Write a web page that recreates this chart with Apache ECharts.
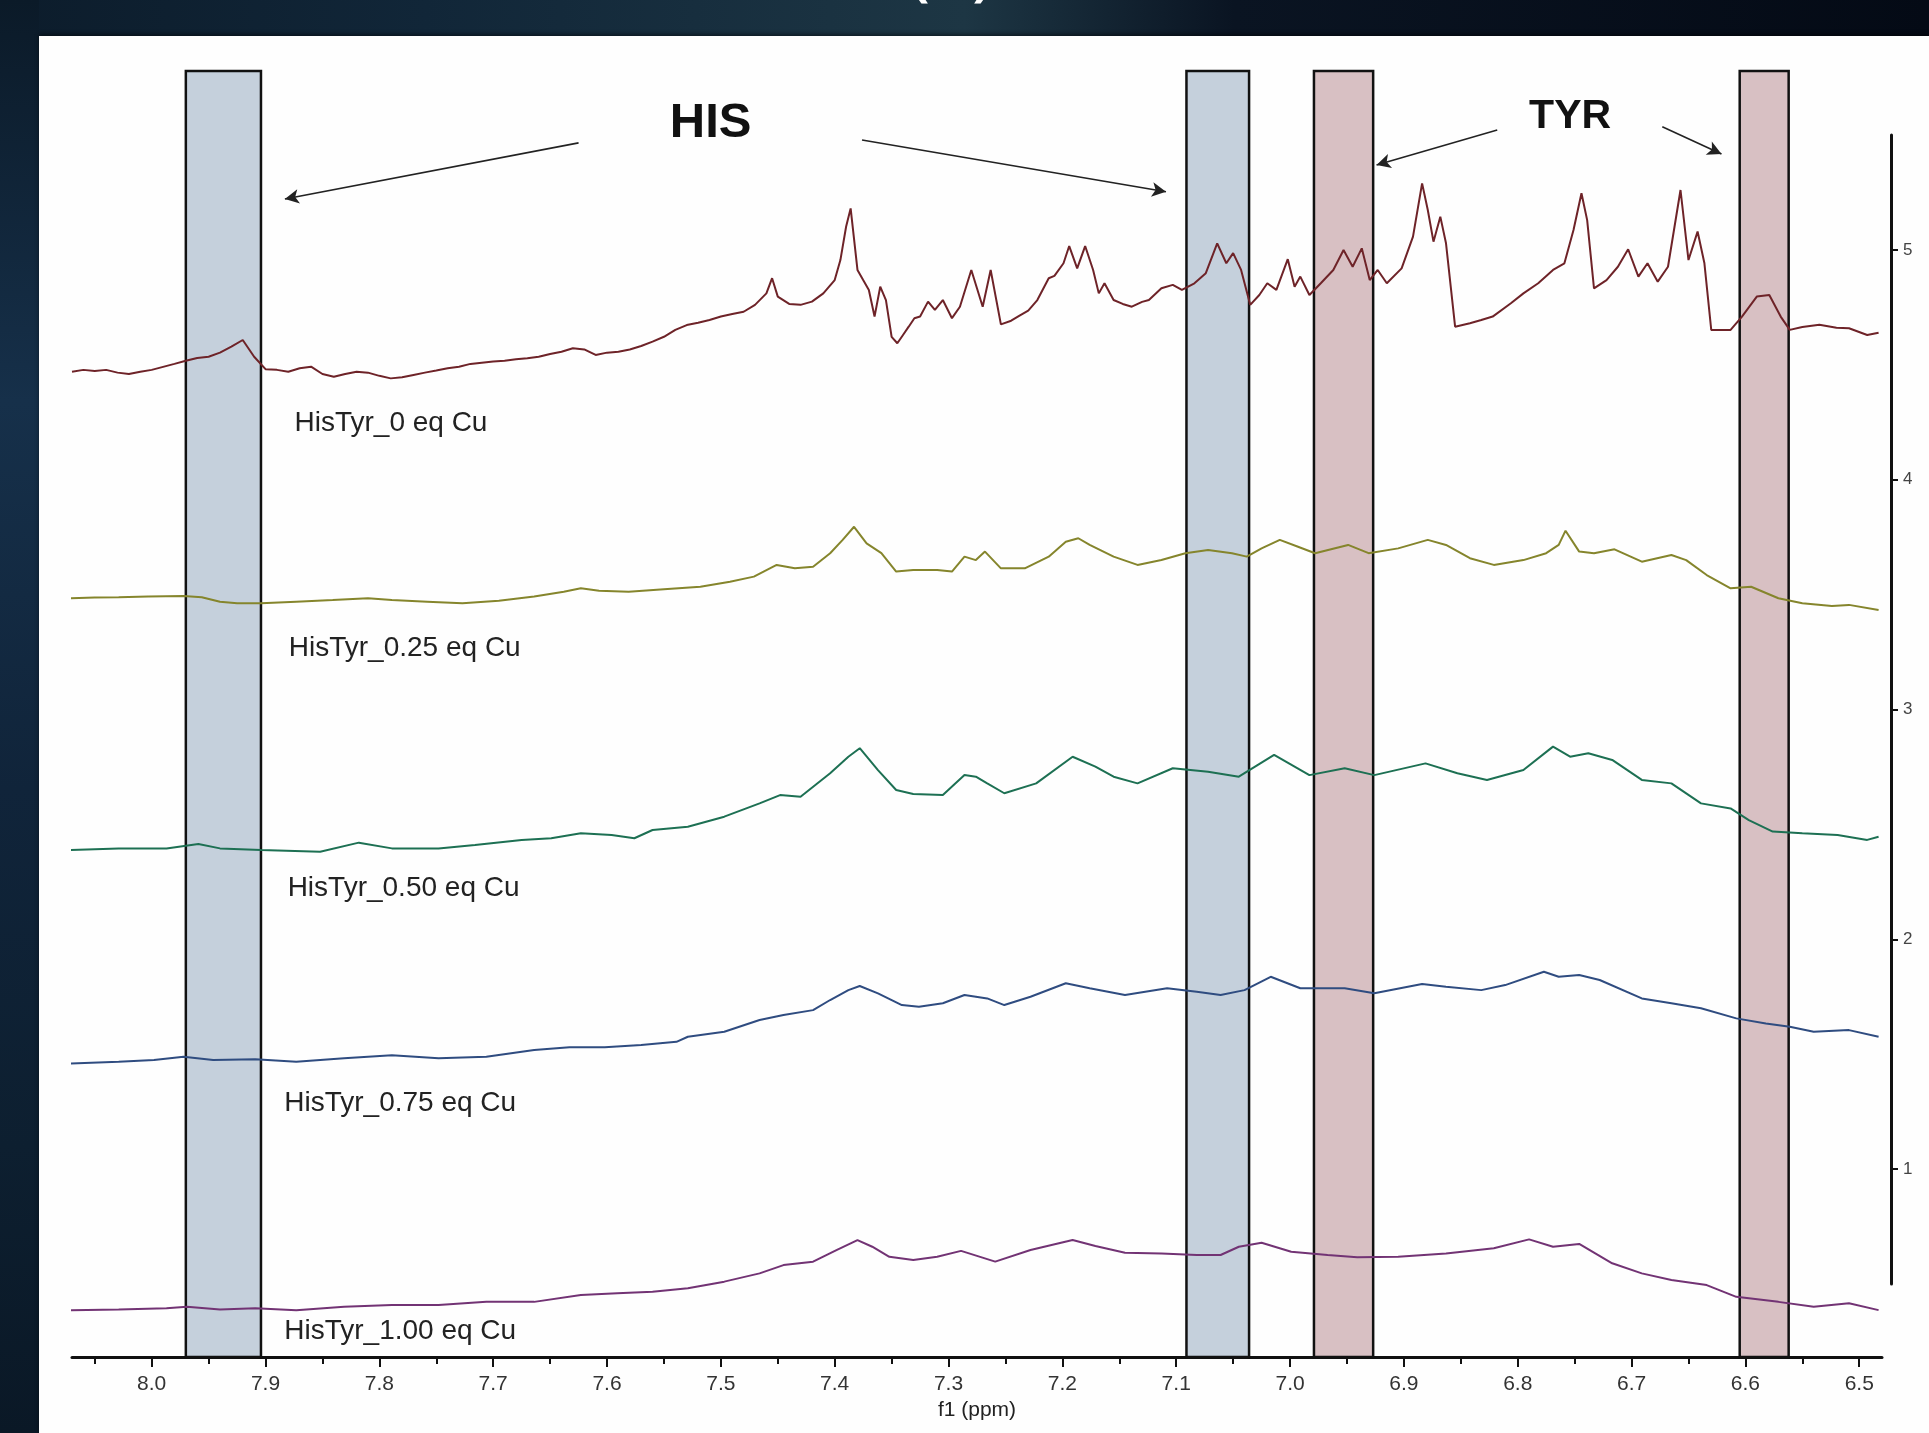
<!DOCTYPE html>
<html><head><meta charset="utf-8">
<script src="https://cdn.jsdelivr.net/npm/echarts@6/dist/echarts.min.js"></script>
<style>
html,body{margin:0;padding:0;}
body{width:1929px;height:1433px;overflow:hidden;position:relative;
background:linear-gradient(90deg,#0c1c2b 0%,#112638 22%,#1d3644 50%,#0a1422 64%,#040a15 100%);}
#left{position:absolute;left:0;top:0;width:39px;height:1433px;background:linear-gradient(180deg,#0b1a28 0%,#16304a 28%,#10243a 55%,#0d1f30 80%,#0a1826 100%);}
#panel{position:absolute;left:39px;top:36px;right:0;bottom:0;background:#fefefe;box-shadow:0 -2px 4px rgba(0,0,0,0.45);}
#chart{position:absolute;left:0;top:0;width:1929px;height:1433px;}
</style></head><body>
<div id="left"></div><div id="panel"></div><div id="chart"></div>
<script>
// ---- data (x: ppm, y: intensity on the right-hand scale) ----
const names = ['HisTyr_0 eq Cu','HisTyr_0.25 eq Cu','HisTyr_0.50 eq Cu','HisTyr_0.75 eq Cu','HisTyr_1.00 eq Cu'];

const spec0 = [[8.07,4.470],[8.06,4.478],[8.05,4.473],[8.04,4.478],[8.03,4.466],[8.02,4.460],[8.01,4.470],[8.00,4.478],[7.99,4.491],[7.98,4.504],[7.97,4.518],[7.96,4.530],[7.95,4.535],[7.94,4.553],[7.93,4.579],[7.92,4.608],[7.91,4.535],[7.90,4.481],[7.89,4.478],[7.88,4.470],[7.87,4.485],[7.86,4.492],[7.85,4.460],[7.84,4.448],[7.83,4.460],[7.82,4.470],[7.81,4.466],[7.80,4.452],[7.79,4.441],[7.78,4.446],[7.77,4.456],[7.76,4.466],[7.75,4.475],[7.74,4.485],[7.73,4.492],[7.72,4.504],[7.71,4.509],[7.70,4.514],[7.69,4.518],[7.68,4.524],[7.67,4.529],[7.66,4.535],[7.65,4.547],[7.64,4.557],[7.63,4.572],[7.62,4.567],[7.61,4.543],[7.60,4.553],[7.59,4.557],[7.58,4.567],[7.57,4.582],[7.56,4.601],[7.55,4.622],[7.54,4.652],[7.53,4.673],[7.52,4.683],[7.51,4.695],[7.50,4.710],[7.49,4.721],[7.48,4.731],[7.47,4.761],[7.46,4.811],[7.455,4.877],[7.45,4.797],[7.44,4.765],[7.43,4.761],[7.42,4.775],[7.41,4.811],[7.40,4.869],[7.395,4.956],[7.39,5.101],[7.386,5.181],[7.38,4.913],[7.375,4.869],[7.37,4.826],[7.365,4.710],[7.36,4.840],[7.355,4.782],[7.35,4.622],[7.345,4.594],[7.34,4.630],[7.335,4.666],[7.33,4.703],[7.325,4.710],[7.318,4.775],[7.312,4.739],[7.305,4.782],[7.297,4.703],[7.29,4.753],[7.28,4.913],[7.27,4.753],[7.263,4.913],[7.254,4.676],[7.245,4.692],[7.238,4.713],[7.23,4.736],[7.222,4.782],[7.212,4.877],[7.207,4.887],[7.199,4.942],[7.194,5.017],[7.187,4.920],[7.18,5.017],[7.173,4.913],[7.168,4.811],[7.163,4.855],[7.155,4.782],[7.147,4.765],[7.139,4.753],[7.13,4.774],[7.124,4.782],[7.113,4.833],[7.103,4.848],[7.095,4.826],[7.084,4.855],[7.074,4.899],[7.064,5.029],[7.056,4.942],[7.05,4.986],[7.043,4.913],[7.035,4.761],[7.027,4.804],[7.02,4.855],[7.012,4.826],[7.002,4.960],[6.996,4.840],[6.991,4.884],[6.983,4.804],[6.973,4.855],[6.962,4.913],[6.953,5.000],[6.945,4.927],[6.937,5.007],[6.93,4.869],[6.923,4.913],[6.915,4.855],[6.902,4.920],[6.892,5.058],[6.884,5.290],[6.879,5.174],[6.874,5.036],[6.868,5.145],[6.863,5.029],[6.855,4.666],[6.842,4.681],[6.832,4.695],[6.822,4.710],[6.806,4.768],[6.795,4.811],[6.782,4.855],[6.769,4.913],[6.759,4.942],[6.751,5.087],[6.744,5.247],[6.739,5.130],[6.733,4.833],[6.722,4.869],[6.712,4.927],[6.703,5.003],[6.694,4.884],[6.686,4.942],[6.677,4.862],[6.668,4.927],[6.657,5.261],[6.65,4.956],[6.642,5.080],[6.636,4.942],[6.63,4.652],[6.613,4.652],[6.603,4.710],[6.59,4.797],[6.579,4.804],[6.569,4.710],[6.561,4.652],[6.55,4.665],[6.535,4.674],[6.52,4.661],[6.509,4.659],[6.493,4.630],[6.483,4.640]];

const spec1 = [[8.071,3.484],[8.05,3.487],[8.029,3.488],[8.003,3.491],[7.972,3.494],[7.956,3.488],[7.94,3.469],[7.925,3.462],[7.904,3.462],[7.873,3.469],[7.841,3.476],[7.81,3.484],[7.789,3.476],[7.758,3.469],[7.727,3.462],[7.695,3.473],[7.664,3.491],[7.638,3.512],[7.623,3.527],[7.607,3.517],[7.581,3.512],[7.55,3.523],[7.518,3.534],[7.492,3.556],[7.471,3.578],[7.451,3.629],[7.435,3.614],[7.419,3.621],[7.404,3.680],[7.393,3.738],[7.383,3.795],[7.372,3.723],[7.359,3.680],[7.346,3.600],[7.331,3.607],[7.31,3.607],[7.297,3.600],[7.286,3.665],[7.276,3.650],[7.268,3.687],[7.254,3.614],[7.233,3.614],[7.212,3.665],[7.197,3.730],[7.186,3.745],[7.176,3.716],[7.155,3.665],[7.134,3.629],[7.113,3.650],[7.092,3.680],[7.072,3.694],[7.051,3.680],[7.038,3.665],[7.025,3.701],[7.009,3.738],[6.993,3.708],[6.978,3.680],[6.949,3.716],[6.931,3.680],[6.905,3.701],[6.879,3.738],[6.863,3.716],[6.842,3.658],[6.821,3.629],[6.795,3.650],[6.775,3.680],[6.764,3.716],[6.758,3.778],[6.746,3.687],[6.733,3.680],[6.715,3.697],[6.691,3.643],[6.665,3.672],[6.652,3.650],[6.634,3.585],[6.613,3.527],[6.595,3.534],[6.571,3.484],[6.55,3.462],[6.524,3.450],[6.509,3.455],[6.483,3.433]];

const spec2 = [[8.071,2.388],[8.029,2.395],[7.987,2.395],[7.959,2.414],[7.94,2.395],[7.904,2.388],[7.852,2.380],[7.818,2.420],[7.789,2.395],[7.748,2.395],[7.716,2.410],[7.675,2.432],[7.649,2.439],[7.623,2.461],[7.596,2.453],[7.576,2.439],[7.56,2.475],[7.529,2.489],[7.497,2.533],[7.466,2.591],[7.448,2.627],[7.43,2.620],[7.404,2.722],[7.388,2.794],[7.378,2.831],[7.362,2.736],[7.346,2.649],[7.331,2.632],[7.305,2.627],[7.286,2.714],[7.276,2.707],[7.266,2.678],[7.251,2.635],[7.223,2.678],[7.191,2.794],[7.171,2.751],[7.155,2.707],[7.134,2.678],[7.103,2.744],[7.072,2.729],[7.045,2.707],[7.014,2.802],[6.983,2.714],[6.952,2.744],[6.926,2.714],[6.881,2.765],[6.853,2.722],[6.827,2.693],[6.795,2.736],[6.769,2.838],[6.754,2.794],[6.738,2.809],[6.717,2.780],[6.691,2.693],[6.665,2.678],[6.639,2.591],[6.613,2.569],[6.597,2.518],[6.576,2.468],[6.55,2.461],[6.519,2.453],[6.493,2.432],[6.483,2.446]];

const spec3 = [[8.071,1.459],[8.029,1.466],[7.998,1.474],[7.972,1.488],[7.946,1.474],[7.909,1.477],[7.873,1.466],[7.831,1.481],[7.789,1.495],[7.748,1.481],[7.706,1.488],[7.664,1.517],[7.633,1.529],[7.602,1.529],[7.57,1.539],[7.539,1.553],[7.529,1.575],[7.497,1.597],[7.466,1.648],[7.445,1.670],[7.419,1.691],[7.404,1.735],[7.388,1.778],[7.378,1.796],[7.362,1.764],[7.341,1.713],[7.326,1.706],[7.305,1.721],[7.286,1.757],[7.266,1.742],[7.251,1.713],[7.228,1.749],[7.197,1.808],[7.176,1.786],[7.145,1.757],[7.108,1.786],[7.082,1.771],[7.061,1.757],[7.04,1.778],[7.017,1.836],[6.991,1.786],[6.952,1.786],[6.926,1.764],[6.884,1.805],[6.863,1.793],[6.832,1.778],[6.811,1.800],[6.777,1.858],[6.764,1.836],[6.746,1.844],[6.728,1.822],[6.691,1.742],[6.665,1.721],[6.639,1.699],[6.608,1.655],[6.582,1.633],[6.561,1.619],[6.54,1.597],[6.509,1.604],[6.483,1.575]];

const spec4 = [[8.071,0.385],[8.029,0.388],[7.987,0.393],[7.969,0.400],[7.94,0.388],[7.909,0.393],[7.873,0.385],[7.831,0.400],[7.789,0.407],[7.748,0.407],[7.706,0.421],[7.664,0.421],[7.623,0.451],[7.591,0.458],[7.56,0.465],[7.529,0.480],[7.497,0.509],[7.466,0.545],[7.445,0.581],[7.419,0.596],[7.398,0.647],[7.38,0.690],[7.367,0.661],[7.352,0.617],[7.331,0.603],[7.31,0.617],[7.289,0.643],[7.259,0.596],[7.228,0.647],[7.191,0.690],[7.171,0.664],[7.145,0.635],[7.113,0.632],[7.082,0.625],[7.061,0.625],[7.045,0.661],[7.025,0.678],[6.999,0.639],[6.967,0.625],[6.941,0.615],[6.905,0.617],[6.863,0.632],[6.821,0.654],[6.79,0.693],[6.769,0.661],[6.746,0.673],[6.717,0.589],[6.691,0.545],[6.665,0.516],[6.634,0.494],[6.608,0.443],[6.571,0.421],[6.54,0.400],[6.509,0.415],[6.483,0.385]];

const spectra = [spec0, spec1, spec2, spec3, spec4];

// shaded regions (ppm ranges)
const hisBands = [[7.970, 7.904], [7.091, 7.036]];
const tyrBands = [[6.979, 6.927], [6.605, 6.562]];

// tick values
const xMajorTicks = [6.5,6.6,6.7,6.8,6.9,7.0,7.1,7.2,7.3,7.4,7.5,7.6,7.7,7.8,7.9,8.0];
const xMinorTicks = [6.55,6.65,6.75,6.85,6.95,7.05,7.15,7.25,7.35,7.45,7.55,7.65,7.75,7.85,7.95,8.05];
const yTicks = [1,2,3,4,5];

// annotation anchors (in data coordinates)
const labelAnchors = [[7.875,4.247],[7.880,3.267],[7.881,2.222],[7.884,1.286],[7.884,0.294]];
const hisArrows = [[[7.625,5.466],[7.883,5.222]], [[7.376,5.479],[7.109,5.253]]];
const tyrArrows = [[[6.818,5.522],[6.924,5.370]], [[6.673,5.536],[6.621,5.418]]];
const hisText = [7.509, 5.550];
const tyrText = [6.754, 5.580];

// ---- chart ----
const FONT = '"Liberation Sans", Arial, sans-serif';
const colors = ['#6e2328','#85852c','#1d7053','#2f4c80','#723374'];

const chart = echarts.init(document.getElementById('chart'));

const lineSeries = spectra.map((s, i) => ({
  type: 'line', name: names[i], data: s, xAxisIndex: 0, yAxisIndex: 0,
  symbol: 'none', showSymbol: false, z: 4, silent: true,
  lineStyle: { color: colors[i], width: 2 },
  markPoint: {
    silent: true, animation: false,
    symbol: 'rect', symbolSize: 1, itemStyle: { color: 'rgba(0,0,0,0)' },
    data: [{ coord: labelAnchors[i], value: names[i],
      label: { show: true, position: 'right', distance: 0, formatter: names[i],
        fontFamily: FONT, fontSize: 28, color: '#222' } }]
  }
}));

const bandSeries = {
  type: 'line', data: [], xAxisIndex: 0, yAxisIndex: 0, z: 1, silent: true,
  markArea: {
    silent: true,
    data: hisBands.map(b => [
      { xAxis: b[0], itemStyle: { color: '#c5d0dc', borderColor: '#111', borderWidth: 2.5 } },
      { xAxis: b[1] }
    ]).concat(tyrBands.map(b => [
      { xAxis: b[0], itemStyle: { color: '#d8c0c3', borderColor: '#111', borderWidth: 2.5 } },
      { xAxis: b[1] }
    ]))
  }
};

const arrowSeries = {
  type: 'line', data: [], xAxisIndex: 0, yAxisIndex: 0, z: 5, silent: true,
  markLine: {
    silent: true, animation: false,
    symbol: ['none', 'arrow'], symbolSize: [11, 14],
    lineStyle: { color: '#222', width: 1.6, type: 'solid' },
    label: { show: false },
    data: hisArrows.concat(tyrArrows).map(a => [{ coord: a[0] }, { coord: a[1] }])
  },
  markPoint: {
    silent: true, animation: false,
    symbol: 'rect', symbolSize: 1, itemStyle: { color: 'rgba(0,0,0,0)' },
    data: [
      { coord: hisText, label: { show: true, position: 'inside', formatter: 'HIS',
        fontFamily: FONT, fontWeight: 'bold', fontSize: 49, color: '#111' } },
      { coord: tyrText, label: { show: true, position: 'inside', formatter: 'TYR',
        fontFamily: FONT, fontWeight: 'bold', fontSize: 41, color: '#111' } }
    ]
  }
};

chart.setOption({
  animation: false,
  backgroundColor: 'transparent',
  graphic: [{
    type: 'text', x: 951, y: -25, silent: true,
    style: { text: '(A)', fill: '#ffffff', font: '600 64px "Open Sans", sans-serif',
      textAlign: 'center', textVerticalAlign: 'middle' }
  }],
  grid: [
    { left: 72, right: 47, top: 71, bottom: 76 },
    { left: 1800, right: 38, top: 135, bottom: 149 }
  ],
  xAxis: [
    { type: 'value', gridIndex: 0, min: 6.48, max: 8.07, inverse: true,
      name: 'f1 (ppm)', nameLocation: 'middle', nameGap: 42,
      nameTextStyle: { fontFamily: FONT, fontSize: 21, color: '#222' },
      axisLine: { show: true, onZero: false, lineStyle: { color: '#111', width: 3 } },
      axisTick: { show: true, customValues: xMajorTicks, length: 10, lineStyle: { color: '#111', width: 2 } },
      axisLabel: { show: true, customValues: xMajorTicks, margin: 17, fontFamily: FONT, fontSize: 21, color: '#333',
        formatter: v => Number(v).toFixed(1) },
      splitLine: { show: false } },
    { type: 'value', gridIndex: 0, min: 6.48, max: 8.07, inverse: true, position: 'bottom',
      axisLine: { show: false, onZero: false },
      axisTick: { show: true, customValues: xMinorTicks, length: 7, lineStyle: { color: '#111', width: 2 } },
      axisLabel: { show: false }, splitLine: { show: false } },
    { type: 'value', gridIndex: 1, min: 0, max: 1, show: false, axisLine: { onZero: false } }
  ],
  yAxis: [
    { type: 'value', gridIndex: 0, min: 0.181, max: 5.779, show: false, axisLine: { onZero: false } },
    { type: 'value', gridIndex: 1, min: 0.5, max: 5.5, position: 'right',
      axisLine: { show: true, onZero: false, lineStyle: { color: '#111', width: 3 } },
      axisTick: { show: true, customValues: yTicks, length: 7, lineStyle: { color: '#111', width: 2 } },
      axisLabel: { show: true, customValues: yTicks, margin: 12, fontFamily: FONT, fontSize: 17, color: '#444' },
      splitLine: { show: false } }
  ],
  series: [bandSeries].concat(lineSeries).concat([arrowSeries])
});
</script></body></html>
